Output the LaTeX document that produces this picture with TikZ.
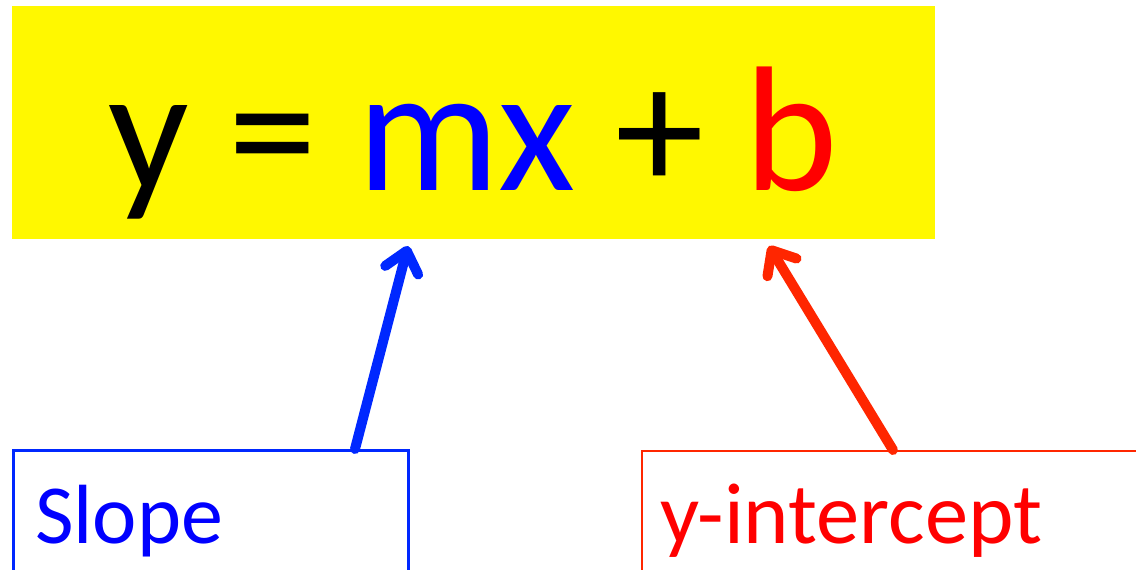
\documentclass[tikz,border=0pt]{standalone}
\usepackage{fontspec}
\setmainfont{Carlito}
\usepackage{xcolor}
\usepackage{tikz}
\usetikzlibrary{arrows.meta,positioning}
\definecolor{eqyellow}{RGB}{255,248,0}
\definecolor{slopeblue}{RGB}{0,40,255}
\definecolor{icptred}{RGB}{255,38,0}
\tikzset{
  eqbox/.style    = {fill=eqyellow, draw=none, inner sep=0pt,
                     minimum width=923pt, minimum height=233pt},
  labbox/.style   = {draw, inner sep=0pt, fill=none},
  labtext/.style  = {anchor=base west, inner sep=0pt,
                     font=\fontsize{84}{90}\selectfont},
  pointer/.style  = {-{Straight Barb[length=20pt,width=34pt,line cap=round,line join=round]},
                     line width=10pt, line cap=round},
}
\begin{document}
\begin{tikzpicture}[x=1pt,y=-1pt]
\useasboundingbox (0,0) rectangle (1136,570);
\clip (0,0) rectangle (1136,570);
% equation
\node[eqbox] (eq) at (473.5,122.5) {};
\node[anchor=base, inner sep=0pt, font=\fontsize{178}{190}\selectfont] (eqtxt) at (473,190)
  {y = \textcolor{blue}{mx} + \textcolor{red}{b}};
% label boxes
\node[labbox, draw=slopeblue, line width=3pt, minimum width=395pt, minimum height=200pt,
      anchor=north west] (slope) at (12,449) {};
\node[labtext, text=blue] (slopetxt) at (35,543) {Slope};
\node[labbox, draw=icptred, line width=1.5pt, minimum width=520pt, minimum height=200pt,
      anchor=north west] (icpt) at (641,450) {};
\node[labtext, text=red, font=\fontsize{86.5}{90}\selectfont] (icpttxt) at (660,543) {y-intercept};
% pointers
\coordinate (mtip) at (408,246);
\coordinate (btip) at (769,246);
\coordinate (mfoot) at (355,449);
\coordinate (bfoot) at (893,450);
\draw[pointer, slopeblue] (mfoot) -- (mtip);
\draw[pointer, icptred] (bfoot) -- (btip);
\end{tikzpicture}
\end{document}
